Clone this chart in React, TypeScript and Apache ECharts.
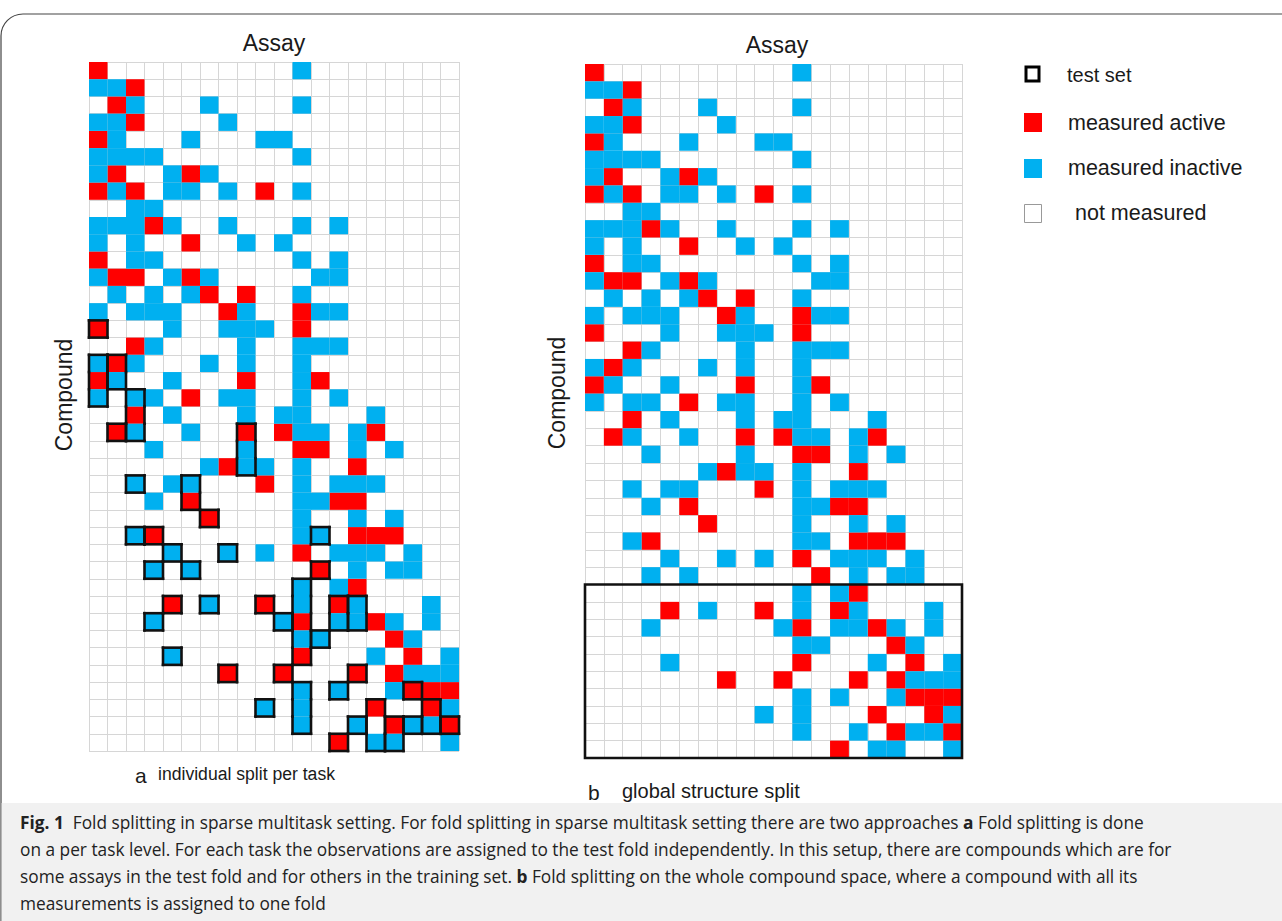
import React, { useEffect, useRef } from "react";
import * as echarts from "echarts";

// ---- data ----
const N_COLS = 20; // assays
const N_ROWS = 40; // compounds

// measured active (red) – column indices per compound row
const ACTIVE: number[][] = [
  [0], [2], [1], [2], [0], [], [1, 5], [0, 2, 9], [], [3],
  [5], [0], [1, 2, 5], [6, 8], [7, 11], [0, 11], [2], [1], [0, 8, 12], [5],
  [2], [1, 8, 10, 15], [11, 12], [7, 14], [9], [5, 13, 14], [6], [3, 14, 15, 16], [11], [12],
  [14], [4, 9, 13], [11, 15], [16], [11, 17], [7, 10, 14, 16], [17, 18, 19], [15, 18], [16, 19], [13],
];

// measured inactive (blue) – column indices per compound row
const INACTIVE: number[][] = [
  [11], [0, 1], [2, 6, 11], [0, 1, 7], [1, 5, 9, 10], [0, 1, 2, 3, 11], [0, 4, 6], [1, 4, 5, 7, 11], [2, 3], [0, 1, 2, 4, 7, 11, 13],
  [0, 2, 8, 10], [2, 3, 11, 13], [0, 4, 6, 12, 13], [1, 3, 5, 11], [0, 2, 3, 4, 8, 12, 13], [4, 7, 8, 9], [3, 8, 11, 12, 13], [0, 2, 6, 8, 11], [1, 4, 11], [0, 2, 3, 7, 8, 11, 13],
  [4, 8, 10, 11, 15], [2, 5, 11, 12, 14], [3, 8, 14, 16], [6, 8, 9, 11], [2, 4, 5, 11, 13, 14, 15], [3, 11, 12], [11, 14, 16], [2, 11, 12], [4, 7, 9, 13, 14, 15, 17], [3, 5, 14, 16, 17],
  [11, 13], [6, 11, 14, 18], [3, 10, 13, 14, 16, 18], [11, 12, 17], [4, 15, 19], [17, 18, 19], [11, 13, 16], [9, 11, 19], [11, 14, 17, 18], [15, 16, 19],
];

// panel a: test-set cells per compound row (individual split per task)
const TEST_A: number[][] = [
  [], [], [], [], [], [], [], [], [], [],
  [], [], [], [], [], [0], [], [0, 1], [0, 1], [0, 2],
  [2], [1, 2, 8], [8], [8], [2, 5], [5], [6], [2, 3, 12], [4, 7], [3, 5, 12],
  [11], [4, 6, 9, 11, 13, 14], [3, 10, 11, 13, 14], [11, 12], [4, 11], [7, 10, 14], [11, 13, 17], [9, 11, 15, 18], [11, 14, 15, 16, 17, 18, 19], [13, 15, 16],
];

// panel b: test fold = whole compound rows
const TEST_B_ROWS: number[] = [30, 39];

const LEGEND_LABELS: string[] = ["test set", "measured active", "measured inactive", "not measured"];

const RED = "#FF0000";
const BLUE = "#00B0F0";
const GRID_LINE = "#d6d6d6";
const FONT = "'Liberation Sans', Arial, sans-serif";

export default function App() {
  const ref = useRef<HTMLDivElement>(null);

  useEffect(() => {
    document.body.style.margin = "0";
    if (!ref.current) return;
    const chart = echarts.init(ref.current, undefined, { renderer: "svg" });

    const xCats = Array.from({ length: N_COLS }, (_, i) => String(i));
    const yCats = Array.from({ length: N_ROWS }, (_, i) => String(i));

    const cells: number[][] = [];
    ACTIVE.forEach((cols, r) => cols.forEach((c) => cells.push([c, r, 1])));
    INACTIVE.forEach((cols, r) => cols.forEach((c) => cells.push([c, r, 2])));

    const testCells: number[][] = [];
    TEST_A.forEach((cols, r) =>
      cols.forEach((c) => {
        const top = r > 0 && TEST_A[r - 1].includes(c) ? 0 : 1;
        const bottom = r < N_ROWS - 1 && TEST_A[r + 1].includes(c) ? 0 : 1;
        testCells.push([c, r, top, bottom]);
      })
    );

    const cellRender = (params: any, api: any) => {
      const p = api.coord([api.value(0), api.value(1)]);
      const s = api.size([1, 1]);
      return {
        type: "rect",
        shape: { x: p[0] - s[0] / 2, y: p[1] - s[1] / 2, width: s[0], height: s[1] },
        style: { fill: api.value(2) === 1 ? RED : BLUE, stroke: null },
      };
    };

    const testRender = (params: any, api: any) => {
      const p = api.coord([api.value(0), api.value(1)]);
      const s = api.size([1, 1]);
      const x0 = p[0] - s[0] / 2, x1 = p[0] + s[0] / 2;
      const y0 = p[1] - s[1] / 2, y1 = p[1] + s[1] / 2;
      const st = { stroke: "#111", lineWidth: 2.6, lineCap: "square" };
      const children: any[] = [
        { type: "line", shape: { x1: x0, y1: y0, x2: x0, y2: y1 }, style: st },
        { type: "line", shape: { x1: x1, y1: y0, x2: x1, y2: y1 }, style: st },
      ];
      if (api.value(2)) children.push({ type: "line", shape: { x1: x0, y1: y0, x2: x1, y2: y0 }, style: st });
      if (api.value(3)) children.push({ type: "line", shape: { x1: x0, y1: y1, x2: x1, y2: y1 }, style: st });
      return { type: "group", children };
    };

    const foldRender = (params: any, api: any) => {
      const p1 = api.coord([api.value(0), api.value(1)]);
      const p2 = api.coord([api.value(2), api.value(3)]);
      const s = api.size([1, 1]);
      return {
        type: "rect",
        shape: {
          x: p1[0] - s[0] / 2,
          y: p1[1] - s[1] / 2,
          width: p2[0] - p1[0] + s[0],
          height: p2[1] - p1[1] + s[1],
        },
        style: { fill: "none", stroke: "#111", lineWidth: 2.6 },
      };
    };

    const axisX = (gi: number) => ({
      type: "category",
      gridIndex: gi,
      data: xCats,
      axisLine: { show: false },
      axisTick: { show: false },
      axisLabel: { show: false },
      splitLine: { show: true, interval: 0, lineStyle: { color: GRID_LINE, width: 1 } },
    });
    const axisY = (gi: number) => ({
      type: "category",
      gridIndex: gi,
      data: yCats,
      inverse: true,
      axisLine: { show: false },
      axisTick: { show: false },
      axisLabel: { show: false },
      splitLine: { show: true, interval: 0, lineStyle: { color: GRID_LINE, width: 1 } },
    });

    const txt = (x: number, y: number, text: string, size: number, extra: any = {}) => ({
      type: "text",
      x,
      y,
      style: { text, fontSize: size, fontFamily: FONT, fill: "#1a1a1a", textVerticalAlign: "middle", ...extra },
    });

    const capFont = "'Open Sans', 'Noto Sans', sans-serif";
    const capSize = 17.3;
    const capRich = { b: { fontWeight: "bold", fontSize: capSize, fontFamily: capFont, fill: "#222" } };
    const capText = (y: number, text: string) => ({
      type: "text",
      x: 20,
      y,
      style: { text, fontSize: capSize, fontFamily: capFont, fill: "#222", rich: capRich, textVerticalAlign: "middle" },
    });

    chart.setOption({
      animation: false,
      backgroundColor: "#ffffff",
      grid: [
        { left: 89, top: 62, width: 370, height: 689 },
        { left: 585, top: 64, width: 377, height: 694 },
      ],
      xAxis: [axisX(0), axisX(1)],
      yAxis: [axisY(0), axisY(1)],
      series: [
        { type: "custom", xAxisIndex: 0, yAxisIndex: 0, renderItem: cellRender, data: cells, z: 2 },
        { type: "custom", xAxisIndex: 0, yAxisIndex: 0, renderItem: testRender, data: testCells, z: 3, clip: false },
        { type: "custom", xAxisIndex: 1, yAxisIndex: 1, renderItem: cellRender, data: cells, z: 2 },
        {
          type: "custom",
          xAxisIndex: 1,
          yAxisIndex: 1,
          renderItem: foldRender,
          data: [[0, TEST_B_ROWS[0], N_COLS - 1, TEST_B_ROWS[1]]],
          z: 3,
          clip: false,
        },
      ],
      graphic: [
        {
          type: "rect",
          shape: { x: 1, y: 14, width: 1320, height: 1000, r: 22 },
          style: { fill: "none", stroke: "#444", lineWidth: 1.2 },
          z: 0,
        },
        {
          type: "rect",
          shape: { x: 1.6, y: 803, width: 1281, height: 119 },
          style: { fill: "#f1f1f1" },
          z: 0,
        },
        // axis titles
        txt(274, 43, "Assay", 23, { textAlign: "center" }),
        txt(777, 45, "Assay", 23, { textAlign: "center" }),
        { ...txt(0, 0, "Compound", 23, { textAlign: "center" }), x: 64, y: 395, rotation: Math.PI / 2 },
        { ...txt(0, 0, "Compound", 23, { textAlign: "center" }), x: 557, y: 393, rotation: Math.PI / 2 },
        // panel captions
        txt(135, 775, "a", 21),
        txt(158, 774, "individual split per task", 17.6),
        txt(588, 792, "b", 21),
        txt(622, 791, "global structure split", 20),
        // legend
        { type: "rect", shape: { x: 1026, y: 67, width: 13, height: 14 }, style: { fill: "#fff", stroke: "#000", lineWidth: 3 } },
        txt(1067, 75, LEGEND_LABELS[0], 20),
        { type: "rect", shape: { x: 1024, y: 113, width: 18, height: 19 }, style: { fill: RED } },
        txt(1068, 123, LEGEND_LABELS[1], 21.5),
        { type: "rect", shape: { x: 1024, y: 159, width: 18, height: 19 }, style: { fill: BLUE } },
        txt(1068, 168, LEGEND_LABELS[2], 21.5),
        { type: "rect", shape: { x: 1024.5, y: 204.5, width: 17, height: 18 }, style: { fill: "none", stroke: "#999", lineWidth: 1 } },
        txt(1075, 213, LEGEND_LABELS[3], 21.5),
        // figure caption
        capText(822, "{b|Fig. 1}  Fold splitting in sparse multitask setting. For fold splitting in sparse multitask setting there are two approaches {b|a} Fold splitting is done"),
        capText(849, "on a per task level. For each task the observations are assigned to the test fold independently. In this setup, there are compounds which are for"),
        capText(876, "some assays in the test fold and for others in the training set. {b|b} Fold splitting on the whole compound space, where a compound with all its"),
        capText(903, "measurements is assigned to one fold"),
      ],
    });

    return () => chart.dispose();
  }, []);

  return <div ref={ref} style={{ width: 1282, height: 921 }} />;
}
